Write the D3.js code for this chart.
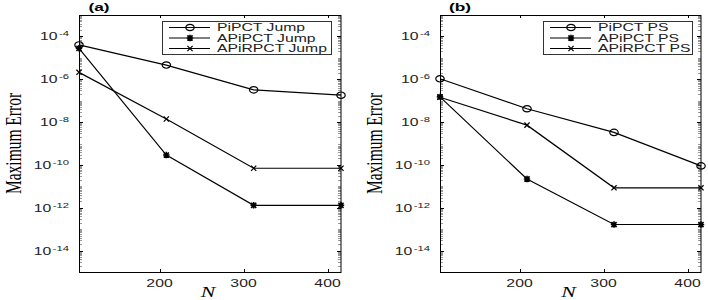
<!DOCTYPE html>
<html><head><meta charset="utf-8">
<script src="https://cdn.jsdelivr.net/npm/d3@7/dist/d3.min.js"></script>
<style>html,body{margin:0;padding:0;background:#fff;}svg{display:block;}</style>
</head><body>
<svg id="chart" width="708" height="300"></svg>
<script>
// ---- data ----
const N = [104, 208, 312, 416];
const xTickValues = [200, 300, 400];
const yTickExponents = [-4, -6, -8, -10, -12, -14];

const panelLabels = ["(a)", "(b)"];
const seriesNamesA = ["PiPCT Jump", "APiPCT Jump", "APiRPCT Jump"];
const seriesNamesB = ["PiPCT PS", "APiPCT PS", "APiRPCT PS"];

const pipctJump   = [4.0e-5, 4.6e-6, 3.2e-7, 1.8e-7];
const apipctJump  = [2.8e-5, 2.9e-10, 1.3e-12, 1.3e-12];
const apirpctJump = [2.1e-6, 1.4e-8, 7.0e-11, 7.0e-11];

const pipctPS   = [1.05e-6, 4.2e-8, 3.3e-9, 9.0e-11];
const apipctPS  = [1.5e-7, 2.2e-11, 1.65e-13, 1.65e-13];
const apirpctPS = [1.45e-7, 7.2e-9, 8.5e-12, 8.5e-12];

const markerTypes = ["circle", "asterisk", "cross"];

// ---- drawing ----
const svg = d3.select("#chart");
const SX = 1.5; // horizontal text stretch of the original figure

function stretchedText(g, x, y, anchor) {
  return g.append("text")
    .attr("transform", `translate(${x},${y}) scale(${SX},1)`)
    .attr("text-anchor", anchor);
}

function drawMarker(g, type, x, y) {
  const s = g.append("g").attr("transform", `translate(${x},${y})`)
    .attr("stroke", "#000").attr("fill", "none").attr("stroke-width", 1.2);
  if (type === "circle") {
    s.append("ellipse").attr("rx", 4.2).attr("ry", 3.2);
  } else if (type === "asterisk") {
    const r = 3.2;
    s.append("path").attr("d", `M${-r},0H${r}M0,${-r}V${r}M${-r*0.8},${-r*0.8}L${r*0.8},${r*0.8}M${-r*0.8},${r*0.8}L${r*0.8},${-r*0.8}`).attr("stroke-width", 1.6);
  } else {
    const r = 2.6;
    s.append("path").attr("d", `M${-r},${-r}L${r},${r}M${-r},${r}L${r},${-r}`);
  }
}

function drawPanel(opts) {
  const {left, right, top, bottom, label, names, series} = opts;
  const g = svg.append("g");
  const x = d3.scaleLinear().domain([104, 416]).range([left, right]);
  const y = d3.scaleLog().domain([1e-15, 1e-3]).range([bottom, top]);

  // minor ticks on log axis
  const minor = [];
  for (let e = -15; e < -3; e++) {
    for (let m = 1; m <= 9; m++) {
      const v = m * Math.pow(10, e);
      if (m === 1 && (e % 2 === 0)) continue;
      if (v > 1e-15 && v < 1e-3) minor.push(v);
    }
  }
  const mg = g.append("g").attr("stroke", "#9a9a9a").attr("stroke-width", 1);
  minor.forEach(v => {
    const yy = Math.round(y(v)) + 0.5;
    mg.append("line").attr("x1", left).attr("x2", left + 3).attr("y1", yy).attr("y2", yy);
    mg.append("line").attr("x1", right).attr("x2", right - 3).attr("y1", yy).attr("y2", yy);
  });

  // major y ticks + labels
  yTickExponents.forEach(e => {
    const yy = Math.round(y(Math.pow(10, e))) + 0.5;
    g.append("line").attr("x1", left).attr("x2", left + 4).attr("y1", yy).attr("y2", yy).attr("stroke", "#000");
    g.append("line").attr("x1", right).attr("x2", right - 4).attr("y1", yy).attr("y2", yy).attr("stroke", "#000");
    const t = stretchedText(g, left - 10, yy + 3.5, "end")
      .attr("font-family", "Liberation Sans, Arial, sans-serif").attr("font-size", 10.5).attr("fill", "#222");
    t.append("tspan").text("10");
    t.append("tspan").attr("font-size", 7.5).attr("dy", -4.5).attr("dx", 1).text("-" + Math.abs(e));
  });

  // x ticks + labels
  xTickValues.forEach(v => {
    const xx = Math.round(x(v)) + 0.5;
    g.append("line").attr("x1", xx).attr("x2", xx).attr("y1", bottom).attr("y2", bottom - 3).attr("stroke", "#000");
    g.append("line").attr("x1", xx).attr("x2", xx).attr("y1", top).attr("y2", top + 3).attr("stroke", "#000");
    stretchedText(g, xx - 1, bottom + 15, "middle")
      .attr("font-family", "Liberation Sans, Arial, sans-serif").attr("font-size", 10.5).attr("fill", "#222")
      .text(v);
  });

  // box
  g.append("rect").attr("x", left + 0.5).attr("y", top + 0.5)
    .attr("width", right - left - 0.5).attr("height", bottom - top)
    .attr("fill", "none").attr("stroke", "#000").attr("stroke-width", 1);

  // series
  const line = d3.line().x((d, i) => x(N[i])).y(d => y(d));
  series.forEach((vals, k) => {
    g.append("path").datum(vals).attr("d", line)
      .attr("fill", "none").attr("stroke", "#000").attr("stroke-width", 1.2);
    vals.forEach((v, i) => drawMarker(g, markerTypes[k], x(N[i]), y(v)));
  });

  // axis labels
  const cx = (left + right) / 2;
  g.append("text")
    .attr("transform", `translate(${cx - 2},${bottom + 25}) scale(${SX},1)`)
    .attr("text-anchor", "middle")
    .attr("font-family", "Liberation Serif, Times New Roman, serif")
    .attr("font-style", "italic").attr("font-size", 14.5).text("N");
  g.append("text")
    .attr("transform", `translate(${left - 58},${(top + bottom) / 2}) scale(${SX},1) rotate(-90)`)
    .attr("text-anchor", "middle")
    .attr("font-family", "Liberation Serif, Times New Roman, serif")
    .attr("font-size", 15.5).text("Maximum Error");

  // panel label
  stretchedText(g, left + 20, 11, "middle")
    .attr("font-family", "Liberation Sans, Arial, sans-serif")
    .attr("font-weight", "bold").attr("font-size", 11.5).text(label);

  // legend
  const lg = g.append("g");
  const lx0 = opts.legX0, lx1 = opts.legX1, ly0 = 21, ly1 = 54;
  lg.append("rect").attr("x", lx0 + 0.5).attr("y", ly0 + 0.5)
    .attr("width", lx1 - lx0).attr("height", ly1 - ly0)
    .attr("fill", "#fff").attr("stroke", "#333").attr("stroke-width", 1);
  names.forEach((nm, k) => {
    const yy = 27.5 + k * 10.5;
    lg.append("line").attr("x1", lx0 + 7).attr("x2", lx0 + 48).attr("y1", yy).attr("y2", yy)
      .attr("stroke", "#000").attr("stroke-width", 1.2);
    drawMarker(lg, markerTypes[k], lx0 + 28, yy);
    stretchedText(lg, lx0 + 55, yy + 3.7, "start")
      .attr("font-family", "Liberation Sans, Arial, sans-serif").attr("font-size", 10.5).attr("fill", "#222")
      .text(nm);
  });
}

drawPanel({left: 79, right: 341, top: 15, bottom: 272, label: panelLabels[0],
  names: seriesNamesA, series: [pipctJump, apipctJump, apirpctJump], legX0: 162, legX1: 331});
drawPanel({left: 440, right: 701, top: 15, bottom: 272, label: panelLabels[1],
  names: seriesNamesB, series: [pipctPS, apipctPS, apirpctPS], legX0: 543, legX1: 692});
</script>
</body></html>
